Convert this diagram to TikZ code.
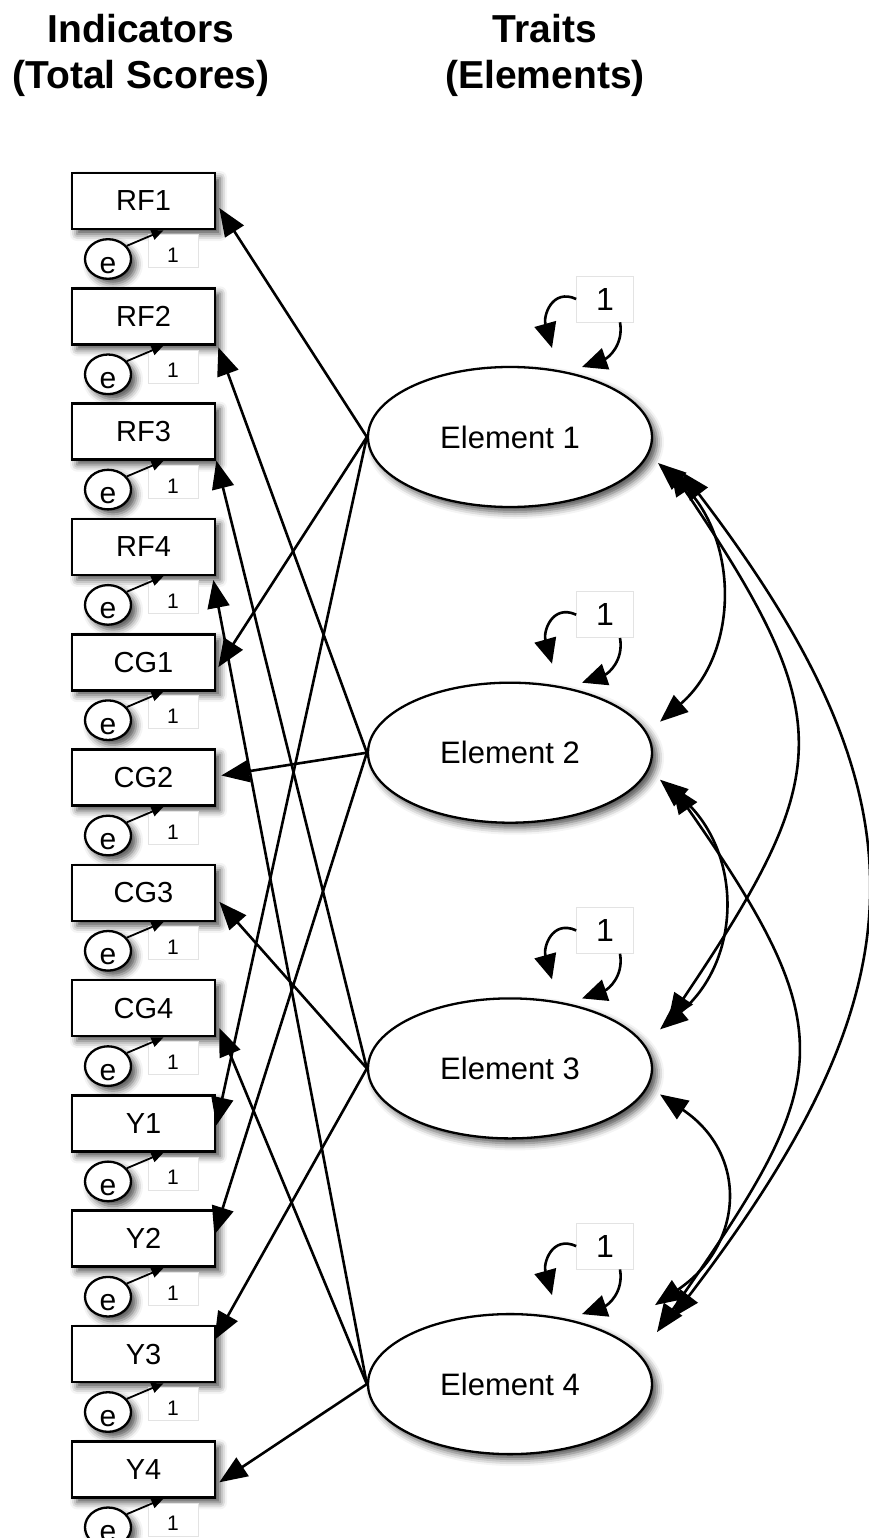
\documentclass[tikz,border=0pt]{standalone}
\usepackage{fontspec}
\setmainfont{Liberation Sans}
\usetikzlibrary{arrows.meta,shadows.blur,calc,shapes.geometric}

\tikzset{
  shade/.style={blur shadow={shadow xshift=5pt, shadow yshift=-5pt, shadow blur radius=7pt, shadow opacity=70}},
  indbox/.style={draw, line width=2.6pt, fill=white, shade, minimum width=143pt, minimum height=56pt,
    inner sep=0pt, font=\fontsize{29}{34}\selectfont},
  errnode/.style={draw, ellipse, line width=2.3pt, fill=white, shade, minimum width=46pt, minimum height=25pt,
    inner sep=0pt, font=\fontsize{30}{34}\selectfont, text height=28pt, text depth=0pt},
  wlabel/.style={draw=gray!22, line width=0.6pt, fill=white, minimum width=50pt, minimum height=33pt,
    inner sep=0pt, font=\fontsize{21}{24}\selectfont, text height=23pt, text depth=0pt},
  traitnode/.style={draw, ellipse, line width=2.3pt, fill=white, shade, minimum width=284pt, minimum height=140pt,
    inner sep=0pt, font=\fontsize{31}{36}\selectfont},
  varlabel/.style={draw=gray!22, line width=0.6pt, fill=white, minimum width=57pt, minimum height=46pt,
    inner sep=0pt, font=\fontsize{32}{36}\selectfont},
  title/.style={align=center, font=\bfseries\fontsize{39}{46}\selectfont},
  bigtip/.tip={Triangle[length=28pt,width=22pt]},
  looptip/.tip={Triangle[length=25pt,width=22pt]},
  smalltip/.tip={Triangle[length=12pt,width=10pt]},
  load/.style={line width=2.6pt, -bigtip},
  cov/.style={line width=2.6pt, bigtip-bigtip},
  selfloop/.style={line width=2.6pt, -looptip},
  errarrow/.style={line width=1.8pt, -smalltip},
}

\begin{document}
\begin{tikzpicture}[x=1pt,y=-1pt]
\useasboundingbox (0,0) rectangle (868,1538);

% column headings
\node[title] (hind) at (141,55) {Indicators\\(Total Scores)};
\node[title] (htr) at (545,55) {Traits\\(Elements)};

% observed indicators with their error terms
\foreach \name [count=\k from 0] in {RF1,RF2,RF3,RF4,CG1,CG2,CG3,CG4,Y1,Y2,Y3,Y4} {
  \node[indbox] (\name) at (143.5,{201+115.3*\k}) {\name};
  \node[errnode] (e\name) at (108,{259+115.3*\k}) {e};
  \node[wlabel] (w\name) at (173,{251+115.3*\k}) {1};
  \draw[errarrow] (e\name.35) -- ($(\name.south)+(20,0)$);
}

% latent traits with unit variances
\foreach \i in {1,...,4} {
  \node[traitnode] (E\i) at (510,{437+315.7*(\i-1)}) {Element \i};
  \node[varlabel] (V\i) at ($(E\i)+(95,-138)$) {1};
  \draw[selfloop] (V\i.west) .. controls ($(E\i)+(42,-149)$) and ($(E\i)+(33,-121)$) .. ($(E\i)+(42,-89)$);
  \draw[selfloop] ($(V\i.south)+(15,0)$) .. controls ($(E\i)+(114,-92)$) and ($(E\i)+(98,-79)$) .. ($(E\i)+(72,-70)$);
}

% factor loadings
\draw[load] (E1.west) -- ($(RF1.east)+(3,7)$);
\draw[load] (E1.west) -- ($(CG1.east)+(2,5)$);
\draw[load] (E1.west) -- ($(Y1.east)+(0,2)$);
\draw[load] (E2.west) -- ($(RF2.east)+(2,31)$);
\draw[load] (E2.west) -- ($(CG2.east)+(5,-2)$);
\draw[load] (E2.west) -- ($(Y2.east)+(-2,-4)$);
\draw[load] (E3.west) -- ($(RF3.east)+(0,29)$);
\draw[load] (E3.west) -- ($(CG3.east)+(3,9)$);
\draw[load] (E3.west) -- ($(Y3.east)+(-2,-14)$);
\draw[load] (E4.west) -- ($(RF4.east)+(-3,33)$);
\draw[load] (E4.west) -- ($(CG4.east)+(3,20)$);
\draw[load] (E4.west) -- ($(Y4.east)+(3,13)$);

% trait covariances
\draw[cov] ($(E1)+(148,26)$) .. controls +(81,70) and +(81,-70) .. ($(E2)+(150,-31)$);
\draw[cov] ($(E1)+(160,31)$) .. controls +(168,250) and +(168,-250) .. ($(E3)+(158,-47)$);
\draw[cov] ($(E1)+(172,35)$) .. controls +(252,330) and +(252,-330) .. ($(E4)+(162,-66)$);
\draw[cov] ($(E2)+(150,27)$) .. controls +(83,70) and +(83,-70) .. ($(E3)+(150,-39)$);
\draw[cov] ($(E2)+(162,33)$) .. controls +(175,250) and +(175,-250) .. ($(E4)+(147,-52)$);
\draw[cov] ($(E3)+(150,26)$) .. controls +(89,60) and +(89,-60) .. ($(E4)+(145,-79)$);
\end{tikzpicture}
\end{document}
